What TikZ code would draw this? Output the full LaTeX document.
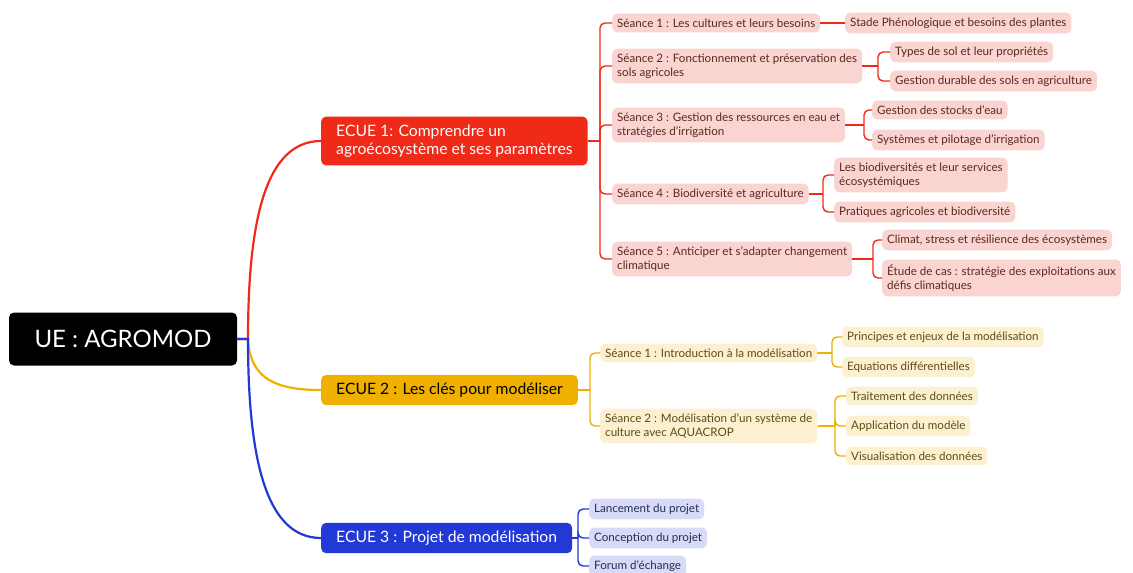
\documentclass[tikz,border=0pt]{standalone}
\usepackage{fontspec}
\setmainfont{Lato}
\usetikzlibrary{positioning}
\definecolor{ecred}{HTML}{F02A18}
\definecolor{ecredlight}{HTML}{F9D4D0}
\definecolor{ecredtext}{HTML}{5E2722}
\definecolor{ecorange}{HTML}{EFB000}
\definecolor{ecorangelight}{HTML}{FBF0D0}
\definecolor{ecorangetext}{HTML}{5E4D17}
\definecolor{ecblue}{HTML}{2339D6}
\definecolor{ecbluelight}{HTML}{D7DBF7}
\definecolor{ecbluetext}{HTML}{272B58}

\begin{document}
\begin{tikzpicture}[x=1pt, y=-1pt,
  every node/.style={rounded corners=5pt, anchor=west, align=left, inner xsep=5pt, inner ysep=5pt, font=\fontsize{11.6}{14}\selectfont},
  ue/.style={fill=black, text=white, anchor=center, minimum width=228pt, minimum height=53pt, font=\fontsize{24}{28}\selectfont},
  ecue/.style={fill=#1, inner xsep=15pt, inner ysep=8pt, font=\fontsize{15.7}{18.5}\selectfont},
  redbox/.style={fill=ecredlight, text=ecredtext},
  orangebox/.style={fill=ecorangelight, text=ecorangetext},
  bluebox/.style={fill=ecbluelight, text=ecbluetext},
  wire/.style={draw=#1, line width=1.4pt, rounded corners=5pt},
  mainwire/.style={draw=#1, line width=2.2pt}]
\useasboundingbox (0,0) rectangle (1133,573);

\node[ue] (ue) at (123,339) {UE : AGROMOD};
\node[ecue=ecred, text=white] (e1) at (321,141) {ECUE 1: Comprendre un\\agroécosystème et ses paramètres};
\node[ecue=ecorange, text=black] (e2) at (321,390) {ECUE 2 : Les clés pour modéliser};
\node[ecue=ecblue, text=white] (e3) at (321,538) {ECUE 3 : Projet de modélisation};

% ECUE 1
\node[redbox] (a1) at (612,23) {Séance 1 : Les cultures et leurs besoins};
\node[redbox] (a11) at (845,23) {Stade Phénologique et besoins des plantes};
\node[redbox] (a2) at (612,66) {Séance 2 : Fonctionnement et préservation des\\sols agricoles};
\node[redbox] (a21) at (890,52) {Types de sol et leur propriétés};
\node[redbox] (a22) at (890,81) {Gestion durable des sols en agriculture};
\node[redbox] (a3) at (612,125) {Séance 3 : Gestion des ressources en eau et\\stratégies d'irrigation};
\node[redbox] (a31) at (872,110) {Gestion des stocks d'eau};
\node[redbox] (a32) at (872,140) {Systèmes et pilotage d'irrigation};
\node[redbox] (a4) at (612,194) {Séance 4 : Biodiversité et agriculture};
\node[redbox] (a41) at (834,175) {Les biodiversités et leur services\\écosystémiques};
\node[redbox] (a42) at (834,212) {Pratiques agricoles et biodiversité};
\node[redbox] (a5) at (612,259) {Séance 5 : Anticiper et s'adapter changement\\climatique};
\node[redbox] (a51) at (882,240) {Climat, stress et résilience des écosystèmes};
\node[redbox] (a52) at (882,278) {Étude de cas : stratégie des exploitations aux\\défis climatiques};

% ECUE 2
\node[orangebox] (b1) at (600,353) {Séance 1 : Introduction à la modélisation};
\node[orangebox] (b11) at (842,337) {Principes et enjeux de la modélisation};
\node[orangebox] (b12) at (842,367) {Equations différentielles};
\node[orangebox] (b2) at (600,426) {Séance 2 : Modélisation d'un système de\\culture avec AQUACROP};
\node[orangebox] (b21) at (846,396) {Traitement des données};
\node[orangebox] (b22) at (846,426) {Application du modèle};
\node[orangebox] (b23) at (846,456) {Visualisation des données};

% ECUE 3
\node[bluebox] (c1) at (589,509) {Lancement du projet};
\node[bluebox] (c2) at (589,538) {Conception du projet};
\node[bluebox] (c3) at (589,566) {Forum d'échange};

% junctions
\coordinate (r0) at (248,339);
\coordinate (j1) at (600,141);
\coordinate (j2) at (590,390);
\coordinate (j3) at (578,538);
\coordinate (k2) at (878,66);
\coordinate (k3) at (864,125);
\coordinate (k4) at (823,194);
\coordinate (k5) at (873,259);
\coordinate (m1) at (832,353);
\coordinate (m2) at (835,426);

% root to ECUE
\draw[mainwire=ecred] (ue.east) -- (r0) .. controls +(0,-120) and +(-55,0) .. (e1.west);
\draw[mainwire=ecorange] (ue.east) -- (r0) .. controls +(2,40) and +(-45,0) .. (e2.west);
\draw[mainwire=ecblue] (ue.east) -- (r0) .. controls +(0,120) and +(-55,0) .. (e3.west);

% ECUE 1 wires
\draw[wire=ecred] (e1.east) -- (j1);
\foreach \n in {a1,a2,a3,a4,a5} \draw[wire=ecred] (j1) |- (\n.west);
\draw[wire=ecred] (a1.east) -- (a11.west);
\draw[wire=ecred] (a2.east) -- (k2);
\foreach \n in {a21,a22} \draw[wire=ecred] (k2) |- (\n.west);
\draw[wire=ecred] (a3.east) -- (k3);
\foreach \n in {a31,a32} \draw[wire=ecred] (k3) |- (\n.west);
\draw[wire=ecred] (a4.east) -- (k4);
\foreach \n in {a41,a42} \draw[wire=ecred] (k4) |- (\n.west);
\draw[wire=ecred] (a5.east) -- (k5);
\foreach \n in {a51,a52} \draw[wire=ecred] (k5) |- (\n.west);

% ECUE 2 wires
\draw[wire=ecorange] (e2.east) -- (j2);
\foreach \n in {b1,b2} \draw[wire=ecorange] (j2) |- (\n.west);
\draw[wire=ecorange] (b1.east) -- (m1);
\foreach \n in {b11,b12} \draw[wire=ecorange] (m1) |- (\n.west);
\draw[wire=ecorange] (b2.east) -- (m2);
\foreach \n in {b21,b22,b23} \draw[wire=ecorange] (m2) |- (\n.west);

% ECUE 3 wires
\draw[wire=ecblue] (e3.east) -- (j3);
\foreach \n in {c1,c2,c3} \draw[wire=ecblue] (j3) |- (\n.west);
\end{tikzpicture}
\end{document}
